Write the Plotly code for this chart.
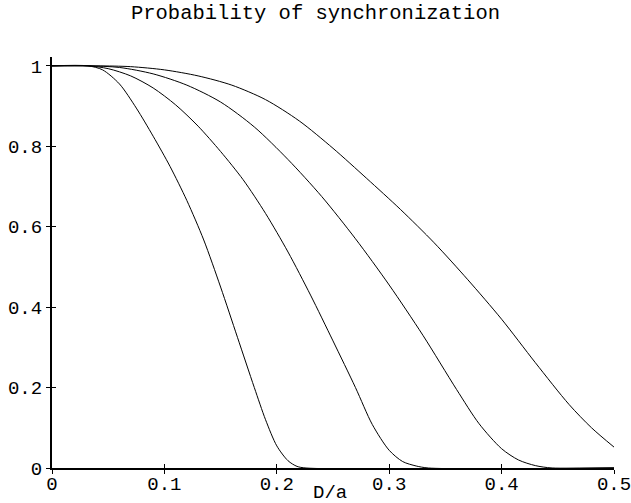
import plotly.graph_objects as go

# Curve data (x = D/a, y = probability)
c1_x = [0, 0.032, 0.045, 0.06, 0.075, 0.09, 0.105, 0.12, 0.135, 0.15, 0.165, 0.18, 0.19, 0.2, 0.21, 0.218, 0.226, 0.5]
c1_y = [1, 1, 0.99, 0.955, 0.895, 0.825, 0.75, 0.665, 0.567, 0.45, 0.325, 0.2, 0.12, 0.055, 0.018, 0.004, 0, 0]

c2_x = [0, 0.032, 0.05, 0.07, 0.09, 0.11, 0.13, 0.15, 0.17, 0.19, 0.21, 0.23, 0.25, 0.27, 0.285, 0.3, 0.312, 0.324, 0.335, 0.5]
c2_y = [1, 1, 0.993, 0.975, 0.945, 0.903, 0.85, 0.787, 0.717, 0.633, 0.537, 0.43, 0.316, 0.2, 0.108, 0.044, 0.016, 0.005, 0, 0]

c3_x = [0, 0.032, 0.06, 0.09, 0.12, 0.15, 0.18, 0.21, 0.24, 0.27, 0.3, 0.33, 0.36, 0.38, 0.4, 0.415, 0.43, 0.445, 0.5]
c3_y = [1, 1, 0.996, 0.98, 0.952, 0.91, 0.848, 0.767, 0.675, 0.57, 0.455, 0.33, 0.195, 0.11, 0.048, 0.02, 0.006, 0, 0]

c4_x = [0, 0.04, 0.07, 0.1, 0.13, 0.16, 0.19, 0.22, 0.25, 0.28, 0.31, 0.34, 0.37, 0.4, 0.43, 0.46, 0.48, 0.5]
c4_y = [1, 1, 0.998, 0.99, 0.975, 0.952, 0.916, 0.863, 0.795, 0.72, 0.643, 0.56, 0.468, 0.37, 0.262, 0.158, 0.1, 0.052]

curves = [(c1_x, c1_y), (c2_x, c2_y), (c3_x, c3_y), (c4_x, c4_y)]

x_ticks = [0, 0.1, 0.2, 0.3, 0.4, 0.5]
x_ticklabels = ["0", "0.1", "0.2", "0.3", "0.4", "0.5"]
y_ticks = [0, 0.2, 0.4, 0.6, 0.8, 1]
y_ticklabels = ["0", "0.2", "0.4", "0.6", "0.8", "1"]

title_text = "Probability of synchronization"
x_title = "D/a"

FONT = "Liberation Mono, Courier New, monospace"

fig = go.Figure()
for cx, cy in curves:
    fig.add_trace(go.Scatter(x=cx, y=cy, mode="lines",
                             line=dict(color="black", width=1, shape="spline", smoothing=0.8),
                             showlegend=False, hoverinfo="skip"))

# invisible trace to host the overlay axes (inner halves of crossing ticks)
fig.add_trace(go.Scatter(x=[0], y=[0], xaxis="x2", yaxis="y2", mode="markers",
                         marker=dict(opacity=0), showlegend=False, hoverinfo="skip"))

XR = [0, 0.5]
YR = [0, 1.022]

fig.update_layout(
    width=631, height=503,
    margin=dict(l=52, r=17, t=57, b=35),
    paper_bgcolor="white", plot_bgcolor="white",
    font=dict(family=FONT, color="black", size=19),
    title=dict(text=title_text, x=0.5, xref="container", xanchor="center",
               y=1 - 12 / 503, yref="container", yanchor="middle",
               font=dict(family=FONT, size=20.5, color="black")),
    xaxis=dict(range=XR, showgrid=False, zeroline=False, showline=True, automargin=False,
               linecolor="black", linewidth=2, ticks="outside", ticklen=4,
               tickwidth=1, tickcolor="black", tickvals=x_ticks, ticktext=x_ticklabels,
               tickfont=dict(family=FONT, size=19), fixedrange=True,
               ticklabeloverflow="allow", ticklabelstandoff=-7),
    yaxis=dict(range=YR, showgrid=False, zeroline=False, showline=True, automargin=False,
               linecolor="black", linewidth=2, ticks="outside", ticklen=4,
               tickwidth=1, tickcolor="black", tickvals=y_ticks, ticktext=y_ticklabels,
               tickfont=dict(family=FONT, size=19), fixedrange=True,
               ticklabeloverflow="allow"),
    xaxis2=dict(range=XR, overlaying="x", side="bottom", anchor="y2", showgrid=False,
                zeroline=False, showline=False, ticks="inside", ticklen=4, tickwidth=1,
                tickcolor="black", tickvals=x_ticks, showticklabels=False, automargin=False),
    yaxis2=dict(range=YR, overlaying="y", side="left", anchor="x2", showgrid=False,
                zeroline=False, showline=False, ticks="inside", ticklen=4, tickwidth=1,
                tickcolor="black", tickvals=y_ticks, showticklabels=False, automargin=False),
    annotations=[dict(text=x_title, x=0.247, xref="x", y=-0.06, yref="paper",
                      xanchor="center", yanchor="middle", showarrow=False,
                      font=dict(family=FONT, size=19, color="black"))],
)

fig.write_html("out.html")
